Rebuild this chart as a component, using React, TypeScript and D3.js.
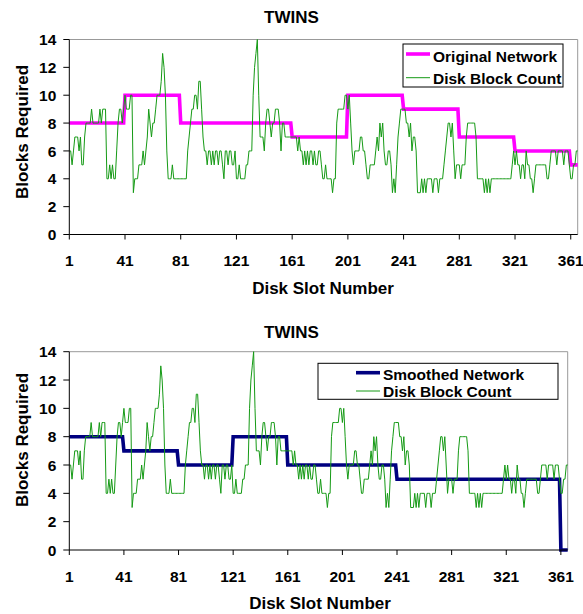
import React from 'react';
import * as d3 from 'd3';

const slotCount = 366;
const xTickLabels = [1, 41, 81, 121, 161, 201, 241, 281, 321, 361];
const yTickValues = [0, 2, 4, 6, 8, 10, 12, 14];

// disk blocks per slot (green trace)
const diskBlockCount = [
  6, 6, 5, 6, 7, 7, 7, 6, 7, 5,
  5, 7, 8, 8, 8, 8, 9, 8, 8, 8,
  8, 8, 9, 8, 9, 9, 9, 4, 4, 5,
  4, 5, 4, 4, 6, 8, 9, 9, 8, 9,
  10, 9, 9, 9, 10, 10, 3, 4, 4, 4,
  5, 5, 5, 6, 5, 6, 7, 9, 8, 7,
  8, 8, 9, 10, 10, 10, 11, 13, 12, 10,
  6, 4, 4, 4, 5, 4, 4, 4, 4, 4,
  4, 4, 4, 4, 4, 6, 7, 8, 9, 9,
  10, 10, 9, 11, 11, 9, 7, 6, 6, 5,
  6, 6, 5, 6, 5, 6, 6, 5, 6, 6,
  5, 4, 6, 6, 5, 6, 6, 5, 5, 6,
  4, 4, 5, 4, 4, 4, 4, 5, 5, 6,
  6, 6, 10, 12, 13, 14, 10, 7, 7, 7,
  6, 8, 9, 9, 8, 7, 8, 8, 9, 9,
  9, 8, 6, 8, 8, 7, 7, 7, 7, 7,
  7, 7, 7, 7, 6, 7, 6, 6, 5, 6,
  5, 6, 5, 6, 6, 5, 6, 5, 5, 6,
  6, 5, 4, 4, 5, 4, 4, 4, 4, 3,
  4, 4, 8, 9, 9, 9, 9, 9, 10, 10,
  9, 10, 8, 6, 5, 6, 6, 6, 6, 7,
  7, 6, 6, 5, 4, 4, 5, 5, 5, 5,
  6, 7, 6, 8, 7, 8, 6, 5, 5, 6,
  6, 5, 3, 4, 3, 5, 7, 8, 9, 9,
  9, 9, 8, 8, 7, 8, 6, 7, 7, 6,
  3, 3, 3, 4, 3, 4, 3, 4, 4, 4,
  4, 3, 4, 4, 4, 3, 4, 4, 4, 5,
  6, 7, 8, 8, 7, 8, 6, 4, 5, 5,
  5, 4, 5, 5, 5, 7, 8, 8, 8, 8,
  8, 8, 7, 4, 4, 4, 4, 4, 3, 4,
  3, 4, 3, 4, 4, 4, 4, 4, 4, 4,
  4, 4, 4, 4, 4, 4, 4, 4, 5, 6,
  5, 6, 5, 5, 4, 5, 5, 4, 6, 5,
  5, 4, 4, 3, 4, 5, 5, 5, 5, 5,
  5, 5, 5, 4, 4, 5, 6, 6, 6, 6,
  5, 6, 6, 6, 6, 5, 6, 6, 6, 5,
  4, 4, 5, 5, 6, 6,
];

// network level for each block of 40 slots (last block is 361-366)
const originalNetworkLevels = [8, 10, 8, 8, 7, 10, 9, 7, 6, 5];
const smoothedNetworkLevels = [8, 7, 6, 8, 6, 6, 5, 5, 5, 0];

const slots = d3.range(1, slotCount + 1);
const perSlot = (levels: number[]) => slots.map((s) => levels[Math.floor((s - 1) / 40)]);

const font = '"Liberation Sans", Arial, Helvetica, sans-serif';

const Panel = ({ frame, network, networkColor, networkLabel, legend, labels }: any) => {
  const x = d3.scaleLinear().domain([1, slotCount]).range([frame.left, frame.right]);
  const y = d3.scaleLinear().domain([0, 14]).range([frame.bottom, frame.top]);
  const line = d3
    .line<number>()
    .x((_, i) => x(slots[i]))
    .y((d) => y(d));

  return (
    <g fontFamily={font} fontWeight="bold" fill="#000">
      <text x={291.5} y={labels.title} fontSize={17} textAnchor="middle">TWINS</text>

      {/* plot frame: grey top/right, black axes */}
      <line x1={frame.left} x2={frame.right} y1={frame.top} y2={frame.top} stroke="#999" />
      <line x1={frame.right} x2={frame.right} y1={frame.top} y2={frame.bottom} stroke="#999" />

      <path d={line(network) || ''} fill="none" stroke={networkColor} strokeWidth={3.6} strokeLinejoin="miter" />
      <path d={line(diskBlockCount) || ''} fill="none" stroke="#159a15" strokeWidth={1} />

      <line x1={frame.left} x2={frame.left} y1={frame.top} y2={frame.bottom} stroke="#000" />
      <line x1={frame.left} x2={frame.right} y1={frame.bottom} y2={frame.bottom} stroke="#000" />

      {yTickValues.map((v) => (
        <g key={'y' + v}>
          <line x1={frame.left - 6} x2={frame.left} y1={y(v)} y2={y(v)} stroke="#000" />
          <text x={frame.left - 13} y={y(v)} dy="0.36em" fontSize={15.5} textAnchor="end">{v}</text>
        </g>
      ))}
      {xTickLabels.map((s) => (
        <g key={'x' + s}>
          <line x1={x(s)} x2={x(s)} y1={frame.bottom} y2={frame.bottom + 5} stroke="#000" />
          <text x={x(s)} y={labels.xTicks} fontSize={15.5} textAnchor="middle">{s}</text>
        </g>
      ))}

      <text x={labels.xTitleX} y={labels.xTitle} fontSize={17} textAnchor="middle">Disk Slot Number</text>
      <text
        transform={`translate(27.5, ${labels.yTitleY}) rotate(-90)`}
        fontSize={17}
        textAnchor="middle"
      >
        Blocks Required
      </text>

      {/* legend */}
      <rect x={legend.x} y={legend.y} width={legend.w} height={legend.h} fill="#fff" stroke="#000" />
      <line x1={legend.sx1} x2={legend.sx2} y1={legend.rows[0].line} y2={legend.rows[0].line} stroke={networkColor} strokeWidth={3.6} />
      <text x={legend.tx} y={legend.rows[0].text} fontSize={15.5}>{networkLabel}</text>
      <line x1={legend.sx1} x2={legend.sx2} y1={legend.rows[1].line} y2={legend.rows[1].line} stroke="#159a15" strokeWidth={1} />
      <text x={legend.tx} y={legend.rows[1].text} fontSize={15.5}>Disk Block Count</text>
    </g>
  );
};

export default function App() {
  return (
    <svg width={583} height={614} style={{ position: 'absolute', left: 0, top: 0, background: '#fff' }}>
      <Panel
        frame={{ left: 69.3, right: 577.7, top: 39.5, bottom: 234.5 }}
        network={perSlot(originalNetworkLevels)}
        networkColor="#ff00ff"
        networkLabel="Original Network"
        labels={{ title: 22.5, xTicks: 265.5, xTitle: 294, xTitleX: 323, yTitleY: 132 }}
        legend={{
          x: 403, y: 44, w: 160, h: 43, sx1: 406, sx2: 430, tx: 433,
          rows: [{ line: 54, text: 61.5 }, { line: 77.7, text: 83.8 }],
        }}
      />
      <Panel
        frame={{ left: 69.3, right: 567.7, top: 351.7, bottom: 550 }}
        network={perSlot(smoothedNetworkLevels)}
        networkColor="#000080"
        networkLabel="Smoothed Network"
        labels={{ title: 337.5, xTicks: 581.5, xTitle: 609, xTitleX: 320, yTitleY: 440 }}
        legend={{
          x: 318, y: 363.3, w: 240, h: 36, sx1: 356, sx2: 380, tx: 383,
          rows: [{ line: 372.7, text: 380 }, { line: 391, text: 396.6 }],
        }}
      />
    </svg>
  );
}
